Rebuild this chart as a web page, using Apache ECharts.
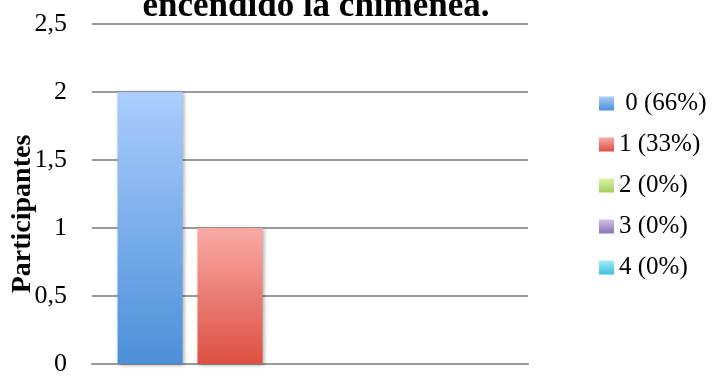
<!DOCTYPE html>
<html><head><meta charset="utf-8">
<script src="https://cdn.jsdelivr.net/npm/echarts@6/dist/echarts.min.js"></script>
<style>html,body{margin:0;padding:0;background:#fff}#c{width:719px;height:376px}</style>
</head><body><div id="c"></div>
<script>
const categories = [''];
const seriesNames = [' 0 (66%)', '1 (33%)', '2 (0%)', '3 (0%)', '4 (0%)'];
const seriesValues = [2, 1, 0, 0, 0];
const gradTop = ['#aacdfd', '#f9aaa6', '#dbf2ac', '#d1c3ec', '#a2ecf9'];
const gradBottom = ['#4b8fd8', '#db5041', '#a6cd58', '#8c70b6', '#3bc0db'];
const yTicks = [0, 0.5, 1, 1.5, 2, 2.5];
const titleText = 'encendido la chimenea.';
const yName = 'Participantes';

const serif = 'Liberation Serif';
const chart = echarts.init(document.getElementById('c'));
const series = seriesNames.map((n, i) => ({
  name: n, type: 'bar', data: [seriesValues[i]], barWidth: 65, barGap: '23%',
  itemStyle: {
    color: new echarts.graphic.LinearGradient(0, 0, 0, 1, [{offset: 0, color: gradTop[i]}, {offset: 1, color: gradBottom[i]}]),
    shadowBlur: 4, shadowColor: 'rgba(0,0,0,0.35)', shadowOffsetX: 1, shadowOffsetY: 1
  }
}));
chart.setOption({
  animation: false,
  color: gradBottom,
  title: {text: titleText, left: 316, textAlign: 'center', top: -11, padding: 0,
    textStyle: {fontFamily: serif, fontWeight: 'bold', fontSize: 35, color: '#000'}},
  legend: {
    orient: 'vertical', left: 594, top: 86, itemWidth: 15, itemHeight: 14, itemGap: 16,
    icon: 'rect',
    textStyle: {fontFamily: serif, fontSize: 25, color: '#000'},
    data: seriesNames
  },
  graphic: [{type: 'text', x: 23, y: 214, rotation: Math.PI / 2,
    style: {text: yName, fontFamily: serif, fontWeight: 'bold', fontSize: 28, fill: '#000',
      align: 'center', verticalAlign: 'middle'}}],
  grid: {left: 92, right: 191, top: 24, bottom: 12, containLabel: false, outerBoundsMode: 'none'},
  xAxis: {type: 'category', data: categories, axisTick: {show: false}, axisLabel: {show: false},
    axisLine: {lineStyle: {color: '#9a9a9a', width: 2}}},
  yAxis: {type: 'value', min: 0, max: 2.5, interval: 0.5,
    axisLine: {show: false}, axisTick: {show: false},
    axisLabel: {margin: 25, fontFamily: serif, fontSize: 26, color: '#000',
      formatter: v => String(v).replace('.', ',')},
    splitLine: {lineStyle: {color: '#9a9a9a', width: 2}}},
  series: series
});
</script></body></html>
